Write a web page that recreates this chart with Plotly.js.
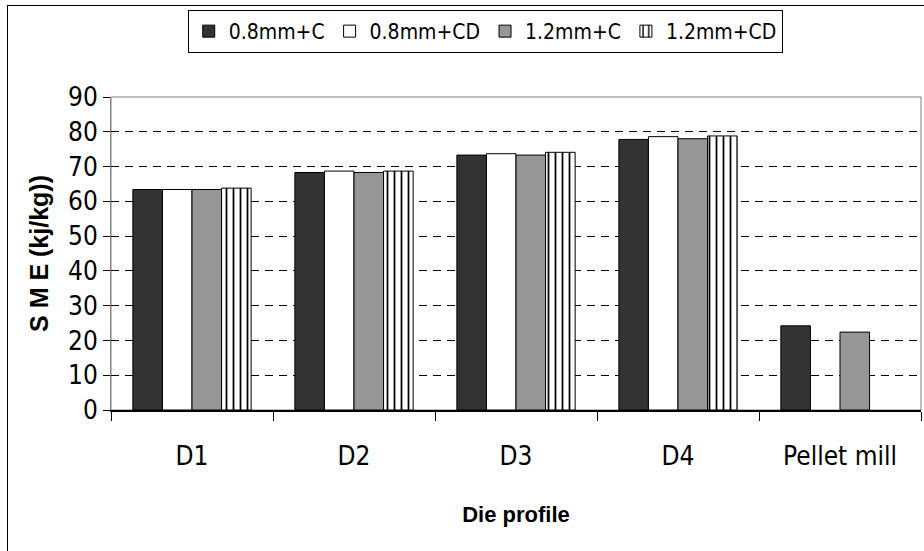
<!DOCTYPE html>
<html>
<head>
<meta charset="utf-8">
<script src="https://cdn.plot.ly/plotly-3.0.1.min.js"></script>
<style>
html,body{margin:0;padding:0;background:#fff;}
#wrap{position:relative;width:924px;height:551px;}
#chart{width:924px;height:551px;}
#frame{position:absolute;left:7px;top:5px;width:940px;height:560px;border:1px solid #000;pointer-events:none;}
</style>
</head>
<body>
<div id="wrap"><div id="chart"></div><div id="frame"></div></div>
<script>
const categories = ["D1", "D2", "D3", "D4", "Pellet mill"];
const seriesNames = ["0.8mm+C", "0.8mm+CD", "1.2mm+C", "1.2mm+CD"];
const s08C  = [63.4, 68.3, 73.3, 77.8, 24.2];
const s08CD = [63.4, 68.7, 73.7, 78.6, null];
const s12C  = [63.4, 68.3, 73.3, 78.0, 22.4];
const s12CD = [63.8, 68.7, 74.1, 78.8, null];
const yTicks = [0,10,20,30,40,50,60,70,80,90];

const FONT = '"Liberation Sans Narrow", "DejaVu Sans Condensed", "Liberation Sans", Arial, sans-serif';
const BOLD = '"Liberation Sans", Arial, sans-serif';
const line = {color:'#000', width:1};

const traces = [
  {type:'bar', name:seriesNames[0], x:categories, y:s08C,  marker:{color:'#333333', line:line}},
  {type:'bar', name:seriesNames[1], x:categories, y:s08CD, marker:{color:'#ffffff', line:line}},
  {type:'bar', name:seriesNames[2], x:categories, y:s12C,  marker:{color:'#969696', line:line}},
  {type:'bar', name:seriesNames[3], x:categories, y:s12CD, marker:{color:'#ffffff', line:line,
      pattern:{shape:'|', fgcolor:'#000', bgcolor:'#ffffff', size:7, solidity:0.25, fillmode:'replace'}}}
];

const layout = {
  width:924, height:551,
  margin:{l:111, r:3, t:97, b:141},
  paper_bgcolor:'#fff', plot_bgcolor:'#fff',
  barmode:'group', bargap:0.27, bargroupgap:0,
  font:{family:FONT, color:'#000', size:20},
  showlegend:true,
  legend:{orientation:'h', x:0.462, y:1.278, xanchor:'center', yanchor:'top',
    bordercolor:'#000', borderwidth:1, bgcolor:'#fff',
    font:{family:FONT, size:21, color:'#000'}, itemwidth:30, tracegroupgap:0},
  xaxis:{
    type:'category', range:[-0.5,4.5],
    showline:true, linecolor:'#000', linewidth:1.5,
    ticks:'outside', tickson:'boundaries', ticklen:9, tickcolor:'#000', tickwidth:1,
    ticklabelstandoff:22,
    tickfont:{family:FONT, size:26, color:'#000'},
    showgrid:false, zeroline:false,
    title:{text:'<b>Die profile</b>', font:{family:BOLD, size:22, color:'#000'}, standoff:37}
  },
  yaxis:{
    range:[0,90], tickvals:yTicks, ticktext:yTicks.map(String),
    showline:true, linecolor:'#808080', linewidth:1,
    ticks:'outside', ticklen:7, tickcolor:'#000', tickwidth:1,
    tickfont:{family:FONT, size:26, color:'#000'},
    showgrid:true, gridcolor:'#000', griddash:'8px,6px', gridwidth:1,
    zeroline:false,
    title:{text:'<b>S M E (kj/kg))</b>', font:{family:BOLD, size:25, color:'#000'}, standoff:12}
  },
  shapes:[
    {type:'rect', xref:'paper', yref:'paper', x0:0, x1:1, y0:0, y1:1, line:{color:'#808080', width:1}, layer:'below'}
  ]
};

Plotly.newPlot('chart', traces, layout, {staticPlot:true, displayModeBar:false});
</script>
</body>
</html>
